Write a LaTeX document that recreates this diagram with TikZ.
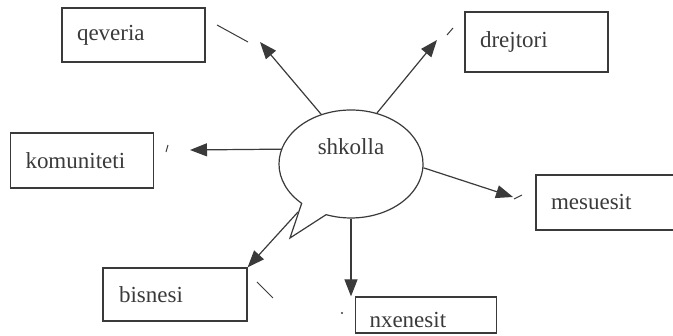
\documentclass[tikz,border=0pt]{standalone}
\usepackage{fontspec}
\setmainfont{Liberation Serif}
\usetikzlibrary{shapes.callouts,arrows.meta}
\definecolor{ink}{HTML}{3A3A3A}

\begin{document}
\begin{tikzpicture}[x=1pt,y=-1pt,
  actor/.style={rectangle,draw=ink,line width=1.2pt,text=ink,
    font=\fontsize{23}{27}\selectfont,align=left,inner xsep=15pt,
    text width=113pt,minimum height=55pt},
  link/.style={draw=ink,line width=1.2pt,-{Triangle[length=17pt,width=13pt]}},
  stray/.style={draw=ink,line width=1pt}]
\useasboundingbox (0,0) rectangle (673,336);
\node [ellipse callout,draw=ink,line width=1.2pt,text=ink,
  font=\fontsize{23}{27}\selectfont,minimum width=144pt,minimum height=108pt,
  callout absolute pointer={(290,238)},callout pointer arc=23,text depth=34pt]
  (shk) at (351,164) {shkolla};
\node [actor,minimum height=54pt] (qv) at (133.5,35) {qeveria};
\node [actor,minimum height=60pt] (dr) at (536.5,42) {drejtori};
\node [actor] (km) at (82,160.5) {komuniteti};
\node [actor] (ms) at (607.5,202.5) {mesuesit};
\node [actor,minimum height=53pt,inner xsep=16pt,text width=112pt] (bi) at (175,294.5) {bisnesi};
\node [actor,minimum height=36pt,inner xsep=14pt,text height=25pt] (nx) at (426,315) {nxenesit};
\coordinate (qvtip) at (260,42);
\coordinate (drtip) at (437,40);
\coordinate (kmtip) at (190,150);
\coordinate (mstip) at (513,197);
\coordinate (bifoot) at (298,212);
\draw [link] (shk.121) -- (qvtip);
\draw [link] (shk.63) -- (drtip);
\draw [link] (shk.168) -- (kmtip);
\draw [link] (shk.-3) -- (mstip);
\draw [link] (bifoot) -- (bi.north east);
\draw [link] (shk.270) -- (shk.270 |- nx.north);
\draw [stray] (217,25) -- (248,42);
\draw [stray] (447,35) -- (453,28);
\draw [stray] (166,152) -- (168,145);
\draw [stray] (514,199) -- (522,195);
\draw [stray] (257,282) -- (273,298);
\fill [ink] (342,313) circle (1.2pt);
\end{tikzpicture}
\end{document}
